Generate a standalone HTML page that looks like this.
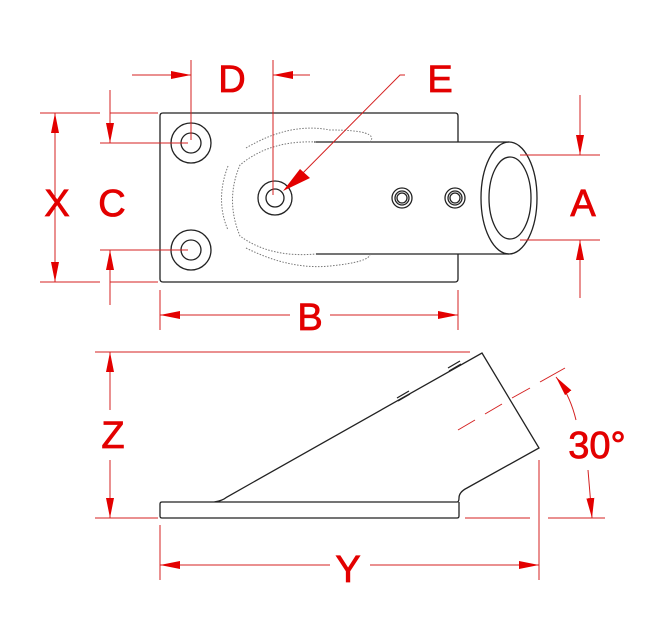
<!DOCTYPE html>
<html><head><style>body{margin:0;background:#fff}svg{display:block}</style></head><body>
<svg width="650" height="638" viewBox="0 0 650 638" xmlns="http://www.w3.org/2000/svg">
<defs>
<marker id="a" viewBox="0 0 20 8" refX="20" refY="4" markerWidth="20" markerHeight="8" markerUnits="userSpaceOnUse" orient="auto"><path d="M0,0L20,4L0,8z" fill="#e30000"/></marker>
</defs>
<g fill="none" stroke="#222" stroke-width="1.3">
<path d="M163,113H455q3,0 3,3V142M458,254V279q0,3-3,3H163q-3,0-3-3V116q0-3,3-3"/>
<path d="M314,142H509M316,254H509"/>
<ellipse cx="509" cy="198" rx="28" ry="56"/>
<ellipse cx="510" cy="198" rx="21" ry="41"/>
<circle cx="191" cy="143" r="20"/><circle cx="191" cy="143" r="10"/>
<circle cx="191" cy="250" r="20"/><circle cx="191" cy="250" r="10"/>
<circle cx="275" cy="198" r="17"/><circle cx="275" cy="198" r="9"/>
<circle cx="402" cy="198" r="10"/><circle cx="402" cy="198" r="7"/><circle cx="402" cy="198" r="5"/>
<circle cx="455" cy="198" r="10"/><circle cx="455" cy="198" r="7"/><circle cx="455" cy="198" r="5"/>
</g>
<g fill="none" stroke="#777" stroke-width="1" stroke-dasharray="1.5,1.5">
<path d="M246,148Q290,122 330,130Q380,130 370,142"/>
<path d="M228,166Q215,200 228,230"/>
<path d="M316,142Q270,140 240,165Q225,200 240,236Q270,258 316,254"/>
<path d="M246,248Q290,270 330,266Q370,262 370,254"/>
</g>
<g fill="none" stroke="#222" stroke-width="1.3">
<path d="M162,502H457q2,0 2,-4q0-6 8,-10L539,448L482,353L227,497q-5,4-13,5M162,502q-2,0-2,2V516q0,2 2,2H457q2,0 2-2V502"/>
<path d="M397,398l12,-7M398,401l12,-7M448,368l12,-7M449,371l12,-7"/>
</g>
<g stroke="#d42020" stroke-width="1" fill="none">
<path d="M40,113H100M110,113H158M40,282H100M110,282H158M100,143H188M100,250H188"/>
<path d="M191,60V140M273,60V195M520,155H600M520,240H600"/>
<path d="M160,290V330M458,290V330"/>
<path d="M95,352H470M95,518H158M465,518H530M548,518H605"/>
<path d="M160,525V580M539,460V580"/>
<path d="M458,430L475,420M485,414L502,404M512,398L530,388M540,382L565,368" />
</g>
<g stroke="#d42020" stroke-width="1" fill="none" marker-end="url(#a)">
<path d="M55,200V113"/><path d="M55,200V282"/>
<path d="M110,90V143"/><path d="M110,305V250"/>
<path d="M132,75H191"/><path d="M310,75H273"/>
<path d="M580,95V155"/><path d="M580,298V240"/>
<path d="M290,315H160"/><path d="M330,315H458"/>
<path d="M110,410V352"/><path d="M110,460V518"/>
<path d="M330,565H160"/><path d="M370,565H539"/>
<path d="M576,420Q570,395 556,377"/><path d="M588,470L592,518"/>
</g>
<path d="M405,75H400L290,186" stroke="#d42020" stroke-width="1" fill="none"/>
<path d="M283,191L300,169L310,178z" fill="#e30000"/>
<g fill="#e30000" stroke="#e30000" stroke-width="0.8" font-family="Liberation Sans, sans-serif" font-size="38" text-anchor="middle">
<text x="232" y="92">D</text><text x="440" y="92">E</text>
<text x="57" y="216">X</text><text x="112" y="216">C</text>
<text x="583" y="216">A</text><text x="310" y="330">B</text>
<text x="113" y="448">Z</text><text x="348" y="582">Y</text>
<text x="597" y="458">30°</text>
</g>
</svg>
</body></html>
